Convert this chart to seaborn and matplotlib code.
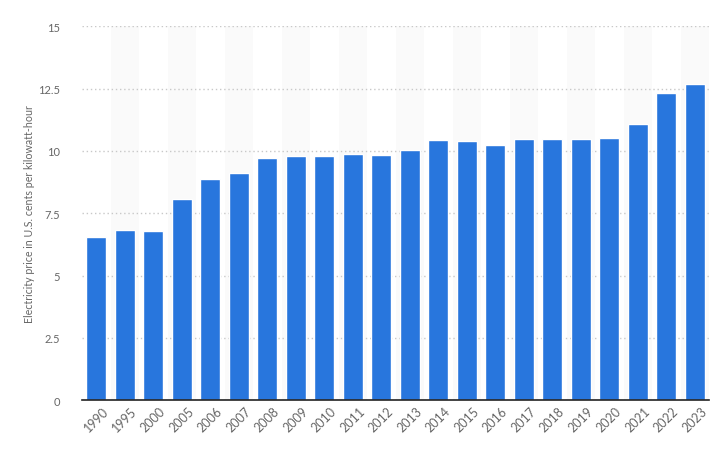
import matplotlib
matplotlib.use("Agg")
import matplotlib.pyplot as plt
import matplotlib.transforms as mtransforms
import seaborn as sns
import pandas as pd

years = ["1990", "1995", "2000", "2005", "2006", "2007", "2008", "2009", "2010", "2011",
         "2012", "2013", "2014", "2015", "2016", "2017", "2018", "2019", "2020", "2021",
         "2022", "2023"]
prices = [6.53, 6.85, 6.78, 8.08, 8.86, 9.11, 9.70, 9.78, 9.78, 9.86,
          9.82, 10.03, 10.42, 10.38, 10.22, 10.46, 10.50, 10.50, 10.54, 11.07,
          12.32, 12.68]
y_ticks = [0, 2.5, 5, 7.5, 10, 12.5, 15]
y_tick_labels = ["0", "2.5", "5", "7.5", "10", "12.5", "15"]
y_label = "Electricity price in U.S. cents per kilowatt-hour"

sns.set_theme(style="white")
plt.rcParams['font.family'] = ['Lato', 'DejaVu Sans']

df = pd.DataFrame({"year": years, "price": prices})

fig = plt.figure(figsize=(7.22, 4.56), dpi=100)
ax = fig.add_axes([82 / 722, (456 - 401.3) / 456, (709 - 82) / 722, (401.3 - 27.3) / 456])

# alternating column shading
for i in range(len(years)):
    if i % 2 == 1:
        ax.axvspan(i - 0.5, i + 0.5, color="#fafafa", zorder=0, lw=0)

sns.barplot(data=df, x="year", y="price", color="#2876dd", saturation=1,
            width=0.7, ax=ax, zorder=3)

ax.set_xlim(-0.5, len(years) - 0.5)
ax.set_ylim(0, 15)
ax.set_yticks(y_ticks)
ax.set_yticklabels(y_tick_labels)
ax.yaxis.grid(True, linestyle=(0, (1, 2)), color="#c8c8c8", linewidth=1, zorder=1)
ax.set_axisbelow(True)

for s in ["top", "right", "left"]:
    ax.spines[s].set_visible(False)
ax.spines["bottom"].set_color("#222222")
ax.spines["bottom"].set_linewidth(1.2)
ax.spines["bottom"].set_zorder(5)

ax.tick_params(axis="y", length=0, pad=16, labelsize=8, labelcolor="#666666")
ax.tick_params(axis="x", length=0, pad=3, labelsize=9, labelcolor="#666666")
offset = mtransforms.ScaledTranslation(6 / 100, 0, fig.dpi_scale_trans)
for lab in ax.get_xticklabels():
    lab.set_rotation(45)
    lab.set_ha("right")
    lab.set_rotation_mode("anchor")
    lab.set_transform(lab.get_transform() + offset)

ax.set_xlabel("")
ax.set_ylabel(y_label, fontsize=7.7, color="#666666")
ax.yaxis.set_label_coords(-(82 - 35) / 627, 0.5)

fig.savefig("out.png", dpi=100, facecolor="white")
